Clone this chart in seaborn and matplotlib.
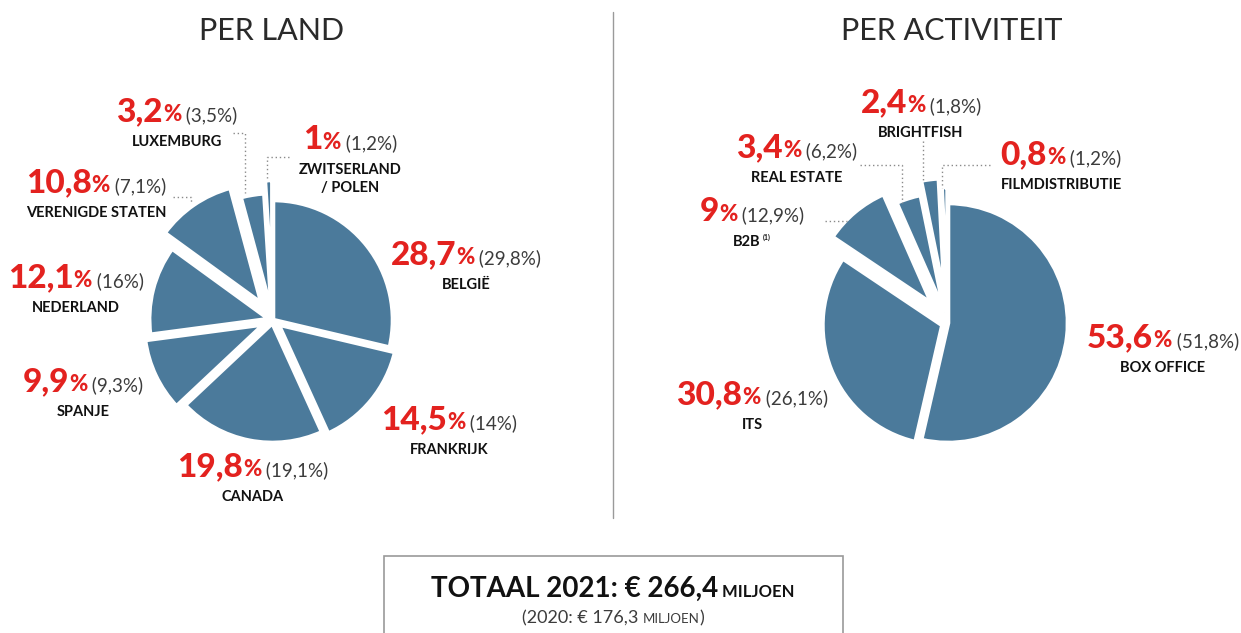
import matplotlib
matplotlib.use("Agg")
import matplotlib.pyplot as plt
from matplotlib.patches import Rectangle
import seaborn as sns

# data: share of revenue 2021 and (2020)
land_names = ["BELGIË", "FRANKRIJK", "CANADA", "SPANJE", "NEDERLAND",
              "VERENIGDE STATEN", "LUXEMBURG", "ZWITSERLAND\n/ POLEN"]
land_2021 = [28.7, 14.5, 19.8, 9.9, 12.1, 10.8, 3.2, 1]
land_2020 = [29.8, 14, 19.1, 9.3, 16, 7.1, 3.5, 1.2]

act_names = ["BOX OFFICE", "ITS", "B2B", "REAL ESTATE", "BRIGHTFISH", "FILMDISTRIBUTIE"]
act_2021 = [53.6, 30.8, 9, 3.4, 2.4, 0.8]
act_2020 = [51.8, 26.1, 12.9, 6.2, 1.8, 1.2]

total_2021 = 266.4
total_2020 = 176.3

# layout (pixel coords, y from top); explode offsets in pixels
land_explode = [0, 7, 3, 10, 4, 20, 7, 20]
act_explode = [0, 6, 25, 11, 25, 16]
land_label_pos = [(466, 264), (449, 429), (253, 476), (83, 391), (76, 287),
                  (96, 192), (177, 121), (350, 149)]
act_label_pos = [(1163, 347), (752, 404), (752, 221), (797, 157), (921, 112), (1061, 164)]

W, H = 1241, 633
BLUE = "#4b7a9b"
RED = "#e3221f"
GREY = "#3c3c3c"

sns.set_theme(style="white")
plt.rcParams["font.family"] = ["Lato", "DejaVu Sans"]

fig = plt.figure(figsize=(W / 100, H / 100), dpi=100)
ax = fig.add_axes([0, 0, 1, 1])


def Y(y):
    return H - y


def fmt(v):
    return f"{v:g}".replace(".", ",")


wp = dict(edgecolor="white", linewidth=3.3)
ax.pie(land_2021, explode=land_explode, startangle=90, counterclock=False,
       center=(273, Y(320)), radius=120, colors=[BLUE] * len(land_2021), wedgeprops=wp)
ax.pie(act_2021, explode=act_explode, startangle=90, counterclock=False,
       center=(948, Y(323)), radius=120, colors=[BLUE] * len(act_2021), wedgeprops=wp)

ax.set_xlim(0, W)
ax.set_ylim(0, H)
ax.set_aspect("auto")
ax.axis("off")

fig.canvas.draw()
renderer = fig.canvas.get_renderer()


def row(parts, cx, by):
    """place text pieces side by side on one baseline, centred on cx"""
    texts = []
    for s, size, color, weight in parts:
        texts.append(ax.text(0, Y(by), s, fontsize=size, color=color,
                             fontweight=weight, va="baseline", ha="left"))
    widths = [t.get_window_extent(renderer).width for t in texts]
    x = cx - sum(widths) / 2
    for t, w in zip(texts, widths):
        t.set_x(x)
        x += w
    return texts


def label(cx, by, pct, prev, name):
    row([(fmt(pct), 24, RED, "black"), ("%", 16, RED, "black"),
         (f" ({fmt(prev)}%)", 13.5, GREY, "normal")], cx, by)
    out = []
    for i, line in enumerate(name.split("\n")):
        out.append(ax.text(cx, Y(by + 25 + i * 18), line, fontsize=10.5, fontweight="bold",
                           color="#111111", ha="center", va="baseline"))
    return out


for (cx, by), p, q, n in zip(land_label_pos, land_2021, land_2020, land_names):
    label(cx, by, p, q, n)
for (cx, by), p, q, n in zip(act_label_pos, act_2021, act_2020, act_names):
    names = label(cx, by, p, q, n)
    if n == "B2B":
        # footnote marker, superscript
        ext = names[0].get_window_extent(renderer)
        names[0].set_x(cx - 5)
        ax.text(cx - 5 + ext.width / 2 + 2, Y(by + 19), "(1)", fontsize=5,
                fontweight="bold", color="#111111", va="baseline")

# titles
ax.text(272, Y(40), "PER LAND", fontsize=22, fontweight="normal", color="#2a2a2a",
        ha="center", va="baseline")
ax.text(952, Y(40), "PER ACTIVITEIT", fontsize=22, fontweight="normal", color="#2a2a2a",
        ha="center", va="baseline")

# divider
ax.plot([613, 613], [Y(12), Y(518)], color="#9a9a9a", lw=1)

# dotted leader lines
dot = dict(color="#8a8a8a", lw=1, linestyle=(0, (1, 2)))
leaders = [
    [(233, 133), (245, 133), (245, 193)],
    [(289, 157), (267, 157), (267, 178)],
    [(173, 197), (191, 197), (191, 204)],
    [(860, 165), (902, 165), (902, 203)],
    [(923, 141), (923, 180)],
    [(990, 165), (942, 165), (942, 188)],
    [(825, 221), (847, 221)],
]
for pts in leaders:
    ax.plot([p[0] for p in pts], [Y(p[1]) for p in pts], **dot)

# totals box
ax.add_patch(Rectangle((384, Y(640)), 459, 84, fill=False, edgecolor="#9a9a9a", lw=1.2))
row([(f"TOTAAL 2021: € {fmt(total_2021)}", 20, "#111111", "bold"),
     (" MILJOEN", 12, "#111111", "bold")], 613, 597)
row([(f"(2020: € {fmt(total_2020)} ", 13, GREY, "normal"),
     ("MILJOEN", 9.5, GREY, "normal"), (")", 13, GREY, "normal")], 613, 623)

fig.savefig("out.png", dpi=100)
